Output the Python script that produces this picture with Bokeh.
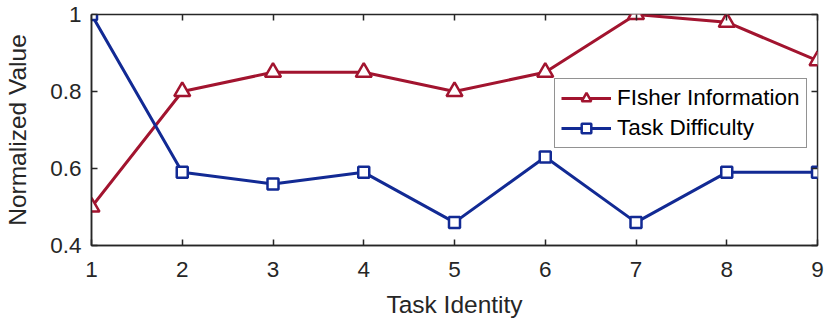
from bokeh.plotting import figure
from bokeh.models import (Range1d, FixedTicker, LinearAxis, CustomJSTickFormatter,
                          Legend, LegendItem)
from bokeh.embed import file_html
from bokeh.resources import INLINE

tasks = [1, 2, 3, 4, 5, 6, 7, 8, 9]
fisher = [0.5, 0.8, 0.85, 0.85, 0.8, 0.85, 1.0, 0.98, 0.88]
difficulty = [1.0, 0.59, 0.56, 0.59, 0.46, 0.63, 0.46, 0.59, 0.59]
x_ticks = [1, 2, 3, 4, 5, 6, 7, 8, 9]
y_ticks = [0.4, 0.6, 0.8, 1.0]

RED = "#A2142F"
BLUE = "#122A94"
AX = "#262626"
FONT = "Liberation Sans"

p = figure(width=830, height=323, output_backend="svg", toolbar_location=None,
           x_range=Range1d(1, 9), y_range=Range1d(0.4, 1.0),
           min_border_left=91, min_border_right=13, min_border_top=14, min_border_bottom=78,
           x_axis_label="Task Identity", y_axis_label="Normalized Value")
p.grid.visible = False
p.outline_line_color = AX
p.outline_line_width = 1.5
p.background_fill_color = "white"
p.border_fill_color = "white"

fmt = CustomJSTickFormatter(code="return tick.toString();")
blank = CustomJSTickFormatter(code="return '';")

for ax in p.xaxis + p.yaxis:
    ax.major_tick_in = 6
    ax.major_tick_out = 0
    ax.minor_tick_line_color = None
    ax.axis_line_color = AX
    ax.axis_line_width = 1.5
    ax.major_tick_line_color = AX
    ax.major_tick_line_width = 1.5
    ax.major_label_text_font = FONT
    ax.major_label_text_font_size = "22.5px"
    ax.major_label_text_color = AX
    ax.axis_label_text_font = FONT
    ax.axis_label_text_font_size = "24.5px"
    ax.axis_label_text_font_style = "normal"
    ax.axis_label_text_color = AX
    ax.formatter = fmt
p.xaxis.ticker = FixedTicker(ticks=x_ticks)
p.yaxis.ticker = FixedTicker(ticks=y_ticks)
p.xaxis.major_label_standoff = 16
p.yaxis.major_label_standoff = 10
p.xaxis.axis_label_standoff = 11
p.yaxis.axis_label_standoff = 16

top = LinearAxis(ticker=FixedTicker(ticks=x_ticks), formatter=blank,
                 major_tick_in=6, major_tick_out=0, minor_tick_line_color=None,
                 axis_line_color=None, major_tick_line_color=AX, major_tick_line_width=1.5,
                 major_label_standoff=0)
right = LinearAxis(ticker=FixedTicker(ticks=y_ticks), formatter=blank,
                   major_tick_in=6, major_tick_out=0, minor_tick_line_color=None,
                   axis_line_color=None, major_tick_line_color=AX, major_tick_line_width=1.5,
                   major_label_standoff=0)
p.add_layout(top, "above")
p.add_layout(right, "right")

l1 = p.line(tasks, fisher, line_color=RED, line_width=3)
m1 = p.scatter(tasks, fisher, marker="triangle", size=16, line_color=RED, line_width=2.5,
               fill_color="white")
l2 = p.line(tasks, difficulty, line_color=BLUE, line_width=3)
m2 = p.scatter(tasks, difficulty, marker="square", size=11, line_color=BLUE, line_width=2.5,
               fill_color="white")

legend = Legend(items=[LegendItem(label="FIsher Information", renderers=[l1, m1]),
                       LegendItem(label="Task Difficulty", renderers=[l2, m2])],
                location=(463, 97))
legend.label_text_font = FONT
legend.label_text_font_size = "22.5px"
legend.label_text_color = "black"
legend.glyph_width = 50
legend.glyph_height = 24
legend.label_height = 24
legend.spacing = 4
legend.padding = 6
legend.margin = 0
legend.label_standoff = 6
legend.border_line_color = AX
legend.border_line_width = 1.2
legend.background_fill_alpha = 1
p.add_layout(legend, "center")

open("out.html", "w").write(file_html(p, INLINE))
